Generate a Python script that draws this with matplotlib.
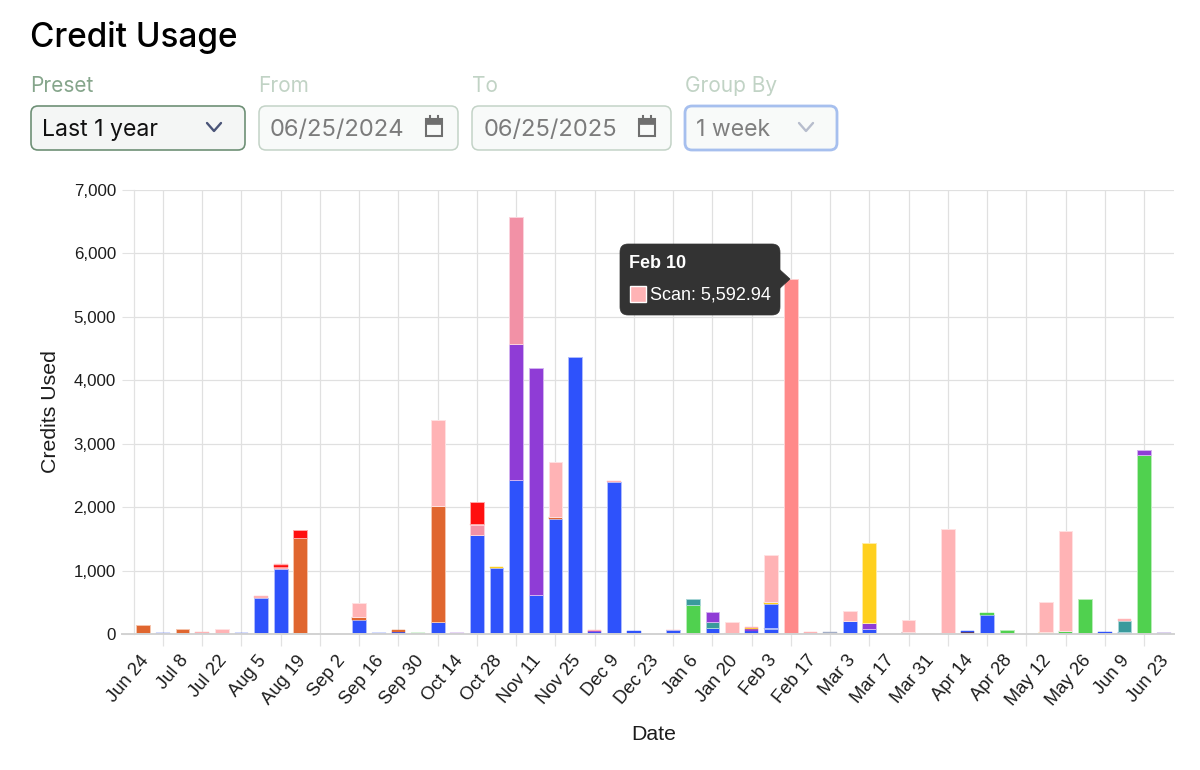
import numpy as np
import matplotlib
matplotlib.use("Agg")
import matplotlib.pyplot as plt
from matplotlib.patches import FancyBboxPatch, Polygon, Rectangle
from matplotlib.ticker import FuncFormatter, FixedLocator

date_labels = ["Jun 24","Jul 8","Jul 22","Aug 5","Aug 19","Sep 2","Sep 16","Sep 30","Oct 14","Oct 28",
               "Nov 11","Nov 25","Dec 9","Dec 23","Jan 6","Jan 20","Feb 3","Feb 17","Mar 3","Mar 17",
               "Mar 31","Apr 14","Apr 28","May 12","May 26","Jun 9","Jun 23"]

# weekly values, bar 0 = Jun 24 ... bar 52 = Jun 23
red_base = [0,0,0,0,0,0,0,0,0,0, 0,0,0,0,0,0,0,0,0,0, 10,0,0,0,0,0,0,0,0,0, 10,10,0,0,0,0,0,10,0,0, 0,0,0,0,0,0,0,0,0,0, 0,0,0]
dark     = [0,0,0,0,0,0,0,0,20,0, 0,0,0,0,0,0,0,0,0,0, 0,0,0,0,0,0,0,0,0,0, 0,0,0,5,0,0,0,0,0,25, 0,0,35,0,0,0,0,0,0,0, 0,0,0]
blue     = [0,15,0,10,0,10,570,1030,0,0, 0,220,10,30,0,190,0,1565,1040,2430, 600,1810,4375,30,2400,40,0,60,5,90, 0,30,80,0,10,0,200,70,0,0, 0,10,10,300,5,0,0,15,5,30, 30,0,8]
slate    = [0,0,0,0,0,0,0,0,0,0, 0,0,0,0,0,0,0,0,0,0, 0,0,0,0,0,0,0,0,0,0, 0,0,15,0,0,25,10,0,0,0, 0,0,0,0,0,0,0,0,0,0, 0,0,0]
blue2    = [0,0,0,0,0,0,0,0,0,0, 0,0,0,0,0,0,0,0,0,0, 0,0,0,0,0,0,0,0,0,0, 0,0,380,0,0,0,0,0,0,0, 0,0,0,0,0,0,0,0,0,0, 0,0,0]
green    = [0,0,0,0,0,0,0,0,0,0, 0,0,0,0,10,0,0,0,0,0, 0,0,0,0,0,0,0,0,450,0, 0,0,0,0,0,0,0,0,0,0, 0,0,0,25,65,0,0,35,540,0, 0,2820,0]
teal     = [0,0,0,0,0,0,0,0,0,0, 0,0,0,0,0,0,0,0,0,0, 0,0,0,0,0,0,0,0,100,100, 0,0,0,0,0,0,0,0,0,0, 0,0,0,0,0,0,0,0,0,0, 180,0,0]
orange   = [140,0,85,0,0,0,0,0,1490,0, 0,45,0,40,0,1830,0,0,0,0, 0,30,0,0,0,0,0,0,0,0, 0,0,0,0,0,0,0,0,0,0, 0,0,0,0,0,0,0,0,0,0, 0,0,0]
purple   = [0,0,0,0,0,0,0,0,0,0, 0,0,0,0,0,0,12,0,0,2140, 3590,0,0,20,0,0,0,0,0,155, 0,40,0,0,0,0,0,90,0,0, 0,0,0,0,0,0,0,0,0,0, 0,80,0]
yellow   = [0,0,0,0,0,0,0,0,0,0, 0,0,0,0,0,0,0,0,20,0, 0,0,0,0,0,0,0,0,0,0, 0,20,30,0,0,0,0,1270,0,0, 5,0,0,0,0,0,35,0,0,0, 0,0,0]
rose     = [0,0,0,0,0,0,0,0,0,0, 0,0,0,0,0,0,0,155,0,2005, 0,0,0,0,0,0,0,0,0,0, 0,0,0,0,0,0,0,0,0,0, 0,0,0,0,0,0,0,0,0,0, 0,0,0]
pink     = [0,0,0,25,80,0,35,30,0,0, 0,230,0,0,0,1360,0,20,0,0, 0,875,0,20,20,0,0,5,0,0, 180,10,735,0,15,0,155,0,0,190, 0,1640,0,0,0,0,475,1580,0,0, 20,0,12]
red_top  = [0,0,0,0,0,0,0,25,130,0, 0,0,0,0,0,0,0,340,0,0, 0,0,0,0,0,0,0,0,0,0, 0,0,0,0,0,0,0,0,0,0, 0,0,0,0,0,0,0,0,0,0, 0,0,0]
pink_top = [0,0,0,0,0,0,0,15,0,0, 0,0,0,0,0,0,0,0,0,0, 0,0,0,0,0,0,0,0,0,0, 0,0,0,0,0,0,0,0,0,0, 0,0,0,0,0,0,0,0,0,0, 0,0,0]
scan_hover = [0,0,0,0,0,0,0,0,0,0, 0,0,0,0,0,0,0,0,0,0, 0,0,0,0,0,0,0,0,0,0, 0,0,0,5592.94,0,0,0,0,0,0, 0,0,0,0,0,0,0,0,0,0, 0,0,0]

stacks = [(red_base,"#F0242A","#FF9A9A"),(dark,"#6B3A44","#B5A0A5"),(blue,"#2E52FB","#AEBBFD"),
          (slate,"#A2ADC6","#C9D0E0"),(blue2,"#2E52FB","#AEBBFD"),(green,"#50D14F","#B9EDB8"),
          (teal,"#3A9A9C","#A8D6D7"),(orange,"#E0662F","#F6C4AC"),(purple,"#8F3CD6","#D2B2F0"),
          (yellow,"#FFD01E","#FFEDA6"),(rose,"#F291A6","#FBD3DC"),(pink,"#FFB3B5","#FFE1E2"),
          (red_top,"#FF0F0F","#FFA8A8"),(pink_top,"#FFB3B5","#FFE1E2"),(scan_hover,"#FF8A8A","#FFD0D0")]

W, H = 1200, 770
fig = plt.figure(figsize=(W/100, H/100), dpi=100, facecolor="white")
plt.rcParams["font.family"] = ["Liberation Sans", "DejaVu Sans"]

left, right, top, bottom = 133.5, 1173.5, 190, 634
ax = fig.add_axes([left/W, 1-bottom/H, (right-left)/W, (bottom-top)/H])
ax.set_xlim(-0.5, 52.5)
ax.set_ylim(0, 7000)

x = np.arange(53)
base = np.zeros(53)
for vals, col, edge in stacks:
    v = np.array(vals, dtype=float)
    for i in x[v > 0]:
        thin = v[i] < 60
        ax.bar(x[i], v[i], bottom=base[i], width=0.70, color=col,
               edgecolor=col if thin else edge, linewidth=0.3 if thin else 0.7, zorder=3)
    base += v

for s in ["top", "right", "bottom"]:
    ax.spines[s].set_visible(False)
ax.spines["left"].set_color("#E2E2E2")
ax.spines["left"].set_linewidth(0.9)

ax.set_yticks(np.arange(0, 7001, 1000))
ax.yaxis.set_major_formatter(FuncFormatter(lambda v, _: f"{int(v):,}"))
ax.tick_params(axis="y", length=8.6, width=0.8, color="#E2E2E2", pad=4,
               labelsize=12.2, labelcolor="#1c1c1c")
ax.grid(axis="y", color="#E0E0E0", linewidth=0.9, zorder=0)

ax.set_xticks(np.arange(0, 53, 2))
ax.set_xticklabels(date_labels, rotation=50, ha="right", rotation_mode="anchor",
                   fontsize=13.2, color="#1c1c1c")
ax.tick_params(axis="x", which="major", length=0, pad=13)
for lab in ax.get_xticklabels():
    lab.set_transform(lab.get_transform() + matplotlib.transforms.ScaledTranslation(-4/100, 0, fig.dpi_scale_trans))
ax.xaxis.set_minor_locator(FixedLocator(np.arange(1, 52, 2)))
ax.tick_params(axis="x", which="minor", length=8.6, width=0.9, color="#E2E2E2")
ax.grid(axis="x", which="minor", color="#E0E0E0", linewidth=0.9, zorder=0)
ax.set_axisbelow(True)

# overlay in pixel coordinates
ui = fig.add_axes([0, 0, 1, 1], zorder=10)
ui.set_xlim(0, W); ui.set_ylim(H, 0); ui.axis("off"); ui.patch.set_alpha(0)

ui.plot([122, 1173.5], [634, 634], color="#D2D2D2", lw=1.4, zorder=1)
ui.text(51, 412, "Credits Used", rotation=90, ha="center", va="center", fontsize=15.3, color="#1c1c1c")
ui.text(654, 735, "Date", ha="center", va="center", fontsize=15.3, color="#1c1c1c")
ui.text(30, 37, "Credit Usage", ha="left", va="center", fontsize=24.0, color="black",
        family="Inter", weight="medium")

def box(x0, y0, x1, y1, fc, ec, lw=1.2, r=7):
    ui.add_patch(FancyBboxPatch((x0+r, y0+r), x1-x0-2*r, y1-y0-2*r, boxstyle=f"round,pad={r},rounding_size={r}",
                                fc=fc, ec=ec, lw=lw, mutation_aspect=1))

def chevron(cx, cy, col):
    ui.plot([cx-7, cx, cx+7], [cy-4, cy+4, cy-4], color=col, lw=1.7, solid_capstyle="round", solid_joinstyle="round")

def calendar(cx, cy, col):
    ui.add_patch(Rectangle((cx-8, cy-8), 16, 17, fc="none", ec=col, lw=1.5))
    ui.add_patch(Rectangle((cx-8, cy-8), 16, 5, fc=col, ec=col, lw=0.5))
    ui.plot([cx-4, cx-4], [cy-11, cy-8], color=col, lw=1.5)
    ui.plot([cx+4, cx+4], [cy-11, cy-8], color=col, lw=1.5)

lab_kw = dict(ha="left", va="center", fontsize=15.0, family="Inter")
field_kw = dict(ha="left", va="center", fontsize=16.6, family="Inter")
date_kw = dict(ha="left", va="center", fontsize=17.1, family="Inter")

ui.text(30, 86, "Preset", color="#85A58B", **lab_kw)
box(31, 106, 245, 150, "#F4F6F5", "#6E9076", 1.2)
ui.text(42, 130, "Last 1 year", color="#111111", **field_kw)
chevron(214, 127, "#4A5578")

ui.text(258, 86, "From", color="#C1D3C5", **lab_kw)
box(259, 106, 458, 150, "#F8FAF9", "#C3D3C7", 1.1)
ui.text(270, 130, "06/25/2024", color="#7C7C7C", **date_kw)
calendar(434, 127, "#6F6F6F")

ui.text(472, 86, "To", color="#C1D3C5", **lab_kw)
box(472, 106, 671, 150, "#F8FAF9", "#C3D3C7", 1.1)
ui.text(484, 130, "06/25/2025", color="#7C7C7C", **date_kw)
calendar(647, 127, "#6F6F6F")

ui.text(685, 86, "Group By", color="#C1D3C5", **lab_kw)
box(685, 106, 837, 150, "#F8FAF9", "#A6BFEE", 2.0)
ui.text(696, 130, "1 week", color="#7F7F7F", **field_kw)
chevron(806, 127, "#B7BDCD")

# tooltip
box(620, 244, 780, 315, "#333333", "#333333", 0.5, r=8)
ui.add_patch(Polygon([[779, 269], [790, 279], [779, 289]], closed=True, fc="#333333", ec="#333333", lw=0.5))
ui.text(629, 263, "Feb 10", color="white", ha="left", va="center", fontsize=13, weight="bold")
ui.add_patch(Rectangle((630, 286), 16, 16, fc="#FFB3B5", ec="white", lw=1))
ui.text(650, 295, "Scan: 5,592.94", color="white", ha="left", va="center", fontsize=13)

fig.savefig("out.png", dpi=100)
